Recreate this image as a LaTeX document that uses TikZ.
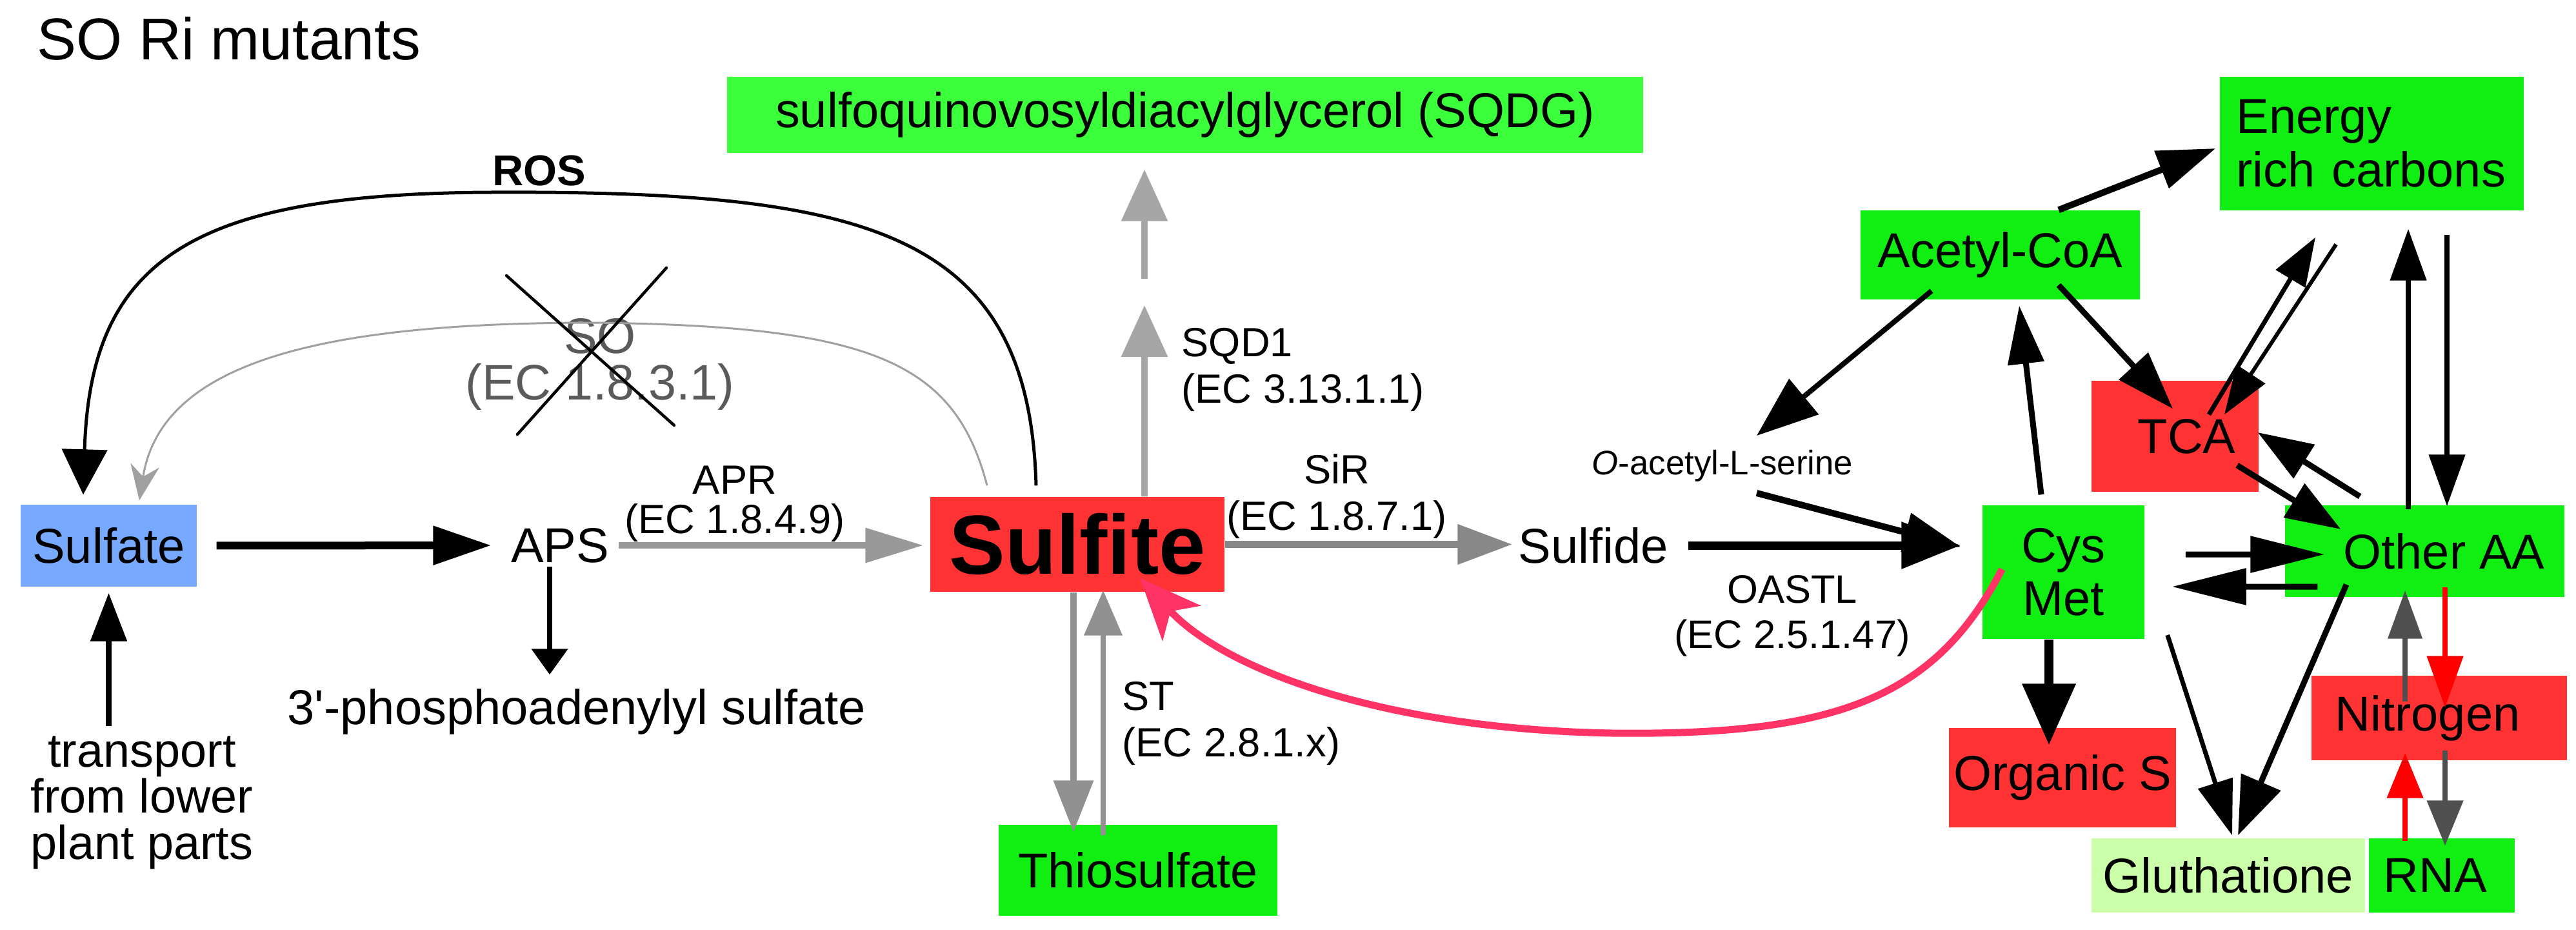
\documentclass[tikz,border=0pt]{standalone}
\usepackage{fontspec}
\setmainfont{Liberation Sans}
\usetikzlibrary{arrows.meta}
\definecolor{poolgreen}{HTML}{11EE11}
\definecolor{sqdggreen}{HTML}{3AFF3A}
\definecolor{poolred}{HTML}{FF3333}
\definecolor{sulfblue}{HTML}{77AAFF}
\definecolor{glutgreen}{HTML}{CCFFAA}
\definecolor{feedpink}{HTML}{FF3366}
\definecolor{aprgray}{HTML}{999999}
\definecolor{sirgray}{HTML}{888888}
\definecolor{sqdgray}{HTML}{A6A6A6}
\definecolor{stgray}{HTML}{919191}
\definecolor{sotext}{HTML}{5A5A5A}
\definecolor{socurve}{HTML}{A0A0A0}
\definecolor{nitgray}{HTML}{505050}
\newcommand{\tightlines}{\lineskiplimit=-20pt\relax}
\newcommand{\poolfont}{\fontsize{21.6}{23.5}\selectfont\tightlines}
\newcommand{\enzfont}{\fontsize{18}{20.5}\selectfont\tightlines}
\tikzset{
  pool/.style={inner sep=0pt,font=\poolfont,fill=poolgreen},
  redpool/.style={pool,fill=poolred},
  plain/.style={inner sep=0pt,font=\poolfont},
  enzyme/.style={inner sep=0pt,font=\enzfont,align=center},
  flow/.style={line width=0.9mm,-{Triangle[length=8.5mm,width=6mm]}},
  fatflow/.style={line width=1.3mm,-{Triangle[length=9.5mm,width=7.5mm]}},
  slimflow/.style={line width=0.7mm,-{Triangle[length=7.5mm,width=5.2mm]}}
}

\begin{document}
\begin{tikzpicture}[
  crossline/.style={line width=0.45mm,line cap=round},
  feedback/.style={line width=1.1mm,draw=feedpink,
    -{Stealth[length=9.5mm,width=8mm,inset=2.5mm]}}
]
  \useasboundingbox (0,0) rectangle (39.93,-14.40);
  \node[anchor=base west,inner sep=0pt,font=\fontsize{26}{30}\selectfont]
    (title) at (0.57,-0.92) {SO Ri mutants};

  % sulfur branch
  \node[pool,fill=sulfblue,minimum width=2.73cm,minimum height=1.27cm]
    (sulfate) at (1.685,-8.455) {Sulfate};
  \node[plain] (aps) at (8.68,-8.45) {APS};
  \node[plain,anchor=base] (paps) at (8.94,-11.22)
    {3\textquotesingle-phosphoadenylyl sulfate};
  \node[plain,align=center,anchor=north,
    font=\fontsize{21}{20.3}\selectfont\tightlines]
    (transport) at (2.20,-11.40) {transport\\from lower\\plant parts};
  \node[redpool,font=\fontsize{37}{40}\selectfont\bfseries,
    minimum width=4.56cm,minimum height=1.47cm] (sulfite) at (16.70,-8.435) {Sulfite};
  \node[pool,fill=sqdggreen,minimum width=14.20cm,minimum height=1.18cm]
    (sqdg) at (18.37,-1.78) {sulfoquinovosyldiacylglycerol (SQDG)};
  \node[pool,minimum width=4.32cm,minimum height=1.41cm]
    (thio) at (17.64,-13.485) {Thiosulfate};
  \node[plain] (sulfide) at (24.70,-8.45) {Sulfide};
  \node[plain,anchor=base,font=\fontsize{15}{17}\selectfont]
    (oas) at (26.70,-7.35) {\textit{O}-acetyl-L-serine};

  % carbon and nitrogen pools
  \node[pool,minimum width=4.33cm,minimum height=1.38cm]
    (acoa) at (31.005,-3.95) {Acetyl-CoA};
  \node[pool,align=left,text width=4.2cm,inner xsep=0.255cm,minimum height=2.07cm]
    (energy) at (36.765,-2.225) {Energy\\rich carbons};
  \node[redpool,minimum width=2.59cm,minimum height=1.72cm]
    (tca) at (33.715,-6.76) {\hspace*{0.36cm}TCA};
  \node[pool,align=center,minimum width=2.51cm,minimum height=2.07cm]
    (cysmet) at (31.985,-8.865) {Cys\\Met};
  \node[pool,minimum width=4.33cm,minimum height=1.42cm]
    (otheraa) at (37.585,-8.54) {\hspace*{0.6cm}Other AA};
  \node[redpool,minimum width=3.96cm,minimum height=1.31cm]
    (nitrogen) at (37.81,-11.125) {Nitrogen\hspace*{0.36cm}};
  \node[redpool,minimum width=3.52cm,minimum height=1.54cm]
    (orgs) at (31.97,-12.05) {Organic S};
  \node[pool,fill=glutgreen,minimum width=4.24cm,minimum height=1.15cm]
    (glut) at (34.54,-13.565) {Gluthatione};
  \node[pool,minimum width=2.26cm,minimum height=1.15cm]
    (rna) at (37.85,-13.565) {RNA\hspace*{0.2cm}};

  % enzyme labels
  \node[enzyme,anchor=north,font=\fontsize{18}{17.5}\selectfont\tightlines]
    (aprlbl) at (11.39,-7.21) {APR\\(EC 1.8.4.9)};
  \node[enzyme,anchor=north west,align=left] (sqdlbl) at (18.31,-5.08)
    {SQD1\\(EC 3.13.1.1)};
  \node[enzyme,anchor=north] (sirlbl) at (20.72,-7.03) {SiR\\(EC 1.8.7.1)};
  \node[enzyme,anchor=north west,align=left] (stlbl) at (17.39,-10.56)
    {ST\\(EC 2.8.1.x)};
  \node[enzyme,anchor=north,font=\fontsize{17.5}{20}\selectfont\tightlines]
    (oastllbl) at (27.78,-8.91) {OASTL\\(EC 2.5.1.47)};
  \node[enzyme,anchor=north,text=sotext,
    font=\fontsize{22}{20.5}\selectfont\tightlines]
    (solbl) at (9.30,-4.93) {SO\\(EC 1.8.3.1)};
  \node[anchor=base,inner sep=0pt,font=\fontsize{19}{21}\selectfont\bfseries]
    (roslbl) at (8.36,-2.87) {ROS};

  % sulfate uptake and reduction
  \draw[flow,line width=1.2mm,-{Triangle[length=9mm,width=5.8mm]},
    shorten <=3mm,shorten >=3mm] (sulfate.east) -- (aps.west);
  \draw[flow,-{Triangle[length=7.5mm,width=5.5mm]},shorten <=1.5mm,shorten >=0.9mm]
    (sulfate.south |- transport.north) -- (sulfate.south);
  \draw[flow,line width=0.8mm,-{Triangle[length=4mm,width=5.5mm]},
    shorten <=0.5mm,shorten >=2.1mm]
    ([xshift=-1.6mm]aps.south) -- ([xshift=-1.6mm]aps.south |- paps.north);
  \draw[flow,draw=aprgray,line width=1mm,-{Triangle[length=9mm,width=5.2mm]},
    shorten <=1.4mm,shorten >=1mm] (aps.east) -- (aps.east -| sulfite.west);
  \draw[line width=0.5mm,-{Triangle[length=7mm,width=7mm]}]
    ([xshift=-6.4mm,yshift=1.7mm]sulfite.north)
    .. controls (15.95,-3.6) and (13.5,-2.95) .. (7.6,-2.98)
    .. controls (3.0,-3.0) and (1.4,-4.0) .. ([xshift=-3.95mm,yshift=1.5mm]sulfate.north);
  \draw[line width=0.3mm,draw=socurve,-{Stealth[length=5.5mm,width=4.5mm]}]
    ([xshift=-14mm,yshift=1.7mm]sulfite.north)
    .. controls (14.8,-5.6) and (13.5,-5.05) .. (9.2,-5.0)
    .. controls (5.0,-5.0) and (2.5,-5.6) .. ([xshift=4.75mm,yshift=0.6mm]sulfate.north);
  \draw[crossline] (7.85,-4.27) -- (10.45,-6.59);
  \draw[crossline] (10.33,-4.15) -- (8.02,-6.73);

  % sulfite branches
  \coordinate (sqdmid) at (17.74,-4.52);
  \draw[flow,draw=sqdgray,line width=1mm,-{Triangle[length=8mm,width=7mm]},
    shorten >=2.1mm] ([xshift=10.4mm]sulfite.north) -- (sqdmid);
  \draw[flow,draw=sqdgray,line width=1mm,-{Triangle[length=8mm,width=7mm]},
    shorten <=2mm,shorten >=2.5mm] (sqdmid) -- (sqdmid |- sqdg.south);
  \draw[flow,draw=sirgray,line width=1.1mm,shorten >=0.9mm]
    (sulfite.east) -- (sulfite.east -| sulfide.west);
  \draw[flow,draw=stgray,line width=1mm,-{Triangle[length=8mm,width=6mm]},
    shorten >=-1.2mm]
    ([xshift=-0.6mm]sulfite.south) -- ([xshift=-0.6mm]sulfite.south |- thio.north);
  \draw[flow,draw=stgray,line width=0.8mm,-{Triangle[length=7mm,width=5.8mm]},
    shorten <=-1.7mm,shorten >=-0.3mm]
    ([xshift=4mm]sulfite.south |- thio.north) -- ([xshift=4mm]sulfite.south);

  % cysteine synthesis
  \draw[fatflow,-{Triangle[length=9.2mm,width=7mm]},shorten <=3mm,shorten >=3.3mm]
    (sulfide.east) -- (sulfide.east -| cysmet.west);
  \draw[flow,line width=1mm,-{Triangle[length=8.8mm,width=6mm]}]
    ([xshift=5.3mm,yshift=-2.9mm]oas.base) -- ([xshift=-3.3mm,yshift=3.9mm]cysmet.west);
  \draw[flow,line width=0.8mm,-{Triangle[length=9.5mm,width=7mm]}]
    ([xshift=-10.65mm,yshift=1.4mm]acoa.south) -- ([xshift=5.3mm,yshift=6mm]oas.base);
  \draw[feedback] ([xshift=3.1mm,yshift=0.45mm]cysmet.west)
    .. controls (30.0,-10.8) and (28.5,-11.4) .. (25.0,-11.36)
    .. controls (21.5,-11.3) and (19.0,-10.4) .. ([xshift=9.7mm,yshift=2.2mm]sulfite.south);

  % carbon network
  \draw[flow,line width=1mm,-{Triangle[length=9mm,width=6mm]}]
    ([xshift=9.05mm]acoa.north) -- ([xshift=-0.6mm,yshift=-0.75mm]energy.west);
  \draw[flow,-{Triangle[length=9mm,width=6mm]}]
    ([xshift=9.05mm,yshift=2.3mm]acoa.south) -- ([xshift=-0.35mm,yshift=-4.4mm]tca.north);
  \draw[flow,-{Triangle[length=9mm,width=5.5mm]}]
    ([xshift=-3.45mm,yshift=1.6mm]cysmet.north) -- ([xshift=2.95mm,yshift=-0.9mm]acoa.south);
  \draw[slimflow]
    ([xshift=5.25mm,yshift=-5.3mm]tca.north) -- ([xshift=-8.75mm,yshift=-4.1mm]energy.south);
  \draw[slimflow,line width=0.6mm]
    ([xshift=-5.55mm,yshift=-5.2mm]energy.south) -- ([xshift=7.65mm,yshift=-5.3mm]tca.north);
  \draw[flow,line width=0.8mm,-{Triangle[length=8mm,width=5.5mm]},
    shorten <=-0.7mm,shorten >=2.8mm]
    ([xshift=-2.55mm]otheraa.north) -- ([xshift=-2.55mm]otheraa.north |- energy.south);
  \draw[flow,line width=0.8mm,-{Triangle[length=8mm,width=5.5mm]},
    shorten <=3.7mm,shorten >=-0.2mm]
    ([xshift=3.45mm]otheraa.north |- energy.south) -- ([xshift=3.45mm]otheraa.north);
  \draw[flow] ([xshift=-3.4mm,yshift=-4.5mm]tca.east)
    -- ([xshift=8.7mm,yshift=3.4mm]otheraa.west);
  \draw[flow] ([xshift=-10.05mm,yshift=1.3mm]otheraa.north)
    -- ([xshift=-0.2mm,yshift=0.6mm]tca.east);
  \draw[flow,-{Triangle[length=11.5mm,width=5.5mm]}]
    ([xshift=6.3mm,yshift=2.75mm]cysmet.east) -- ([xshift=6.2mm,yshift=-0.5mm]otheraa.west);
  \draw[flow,-{Triangle[length=11.5mm,width=5.5mm]}]
    ([xshift=5.1mm,yshift=-5.5mm]otheraa.west) -- ([xshift=4.2mm,yshift=-2.25mm]cysmet.east);
  \draw[fatflow,line width=1.4mm,-{Triangle[length=9.5mm,width=8mm]},shorten >=-2.7mm]
    ([xshift=-2.25mm]cysmet.south) -- ([xshift=-2.25mm]cysmet.south |- orgs.north);
  \draw[slimflow,-{Triangle[length=8.5mm,width=5.5mm]}]
    ([xshift=3.5mm,yshift=-9.75mm]cysmet.east) -- ([xshift=0.6mm,yshift=0.4mm]glut.north);
  \draw[flow,-{Triangle[length=9mm,width=6.5mm]}]
    ([xshift=-12.15mm,yshift=2mm]otheraa.south) -- ([xshift=1.5mm,yshift=0.4mm]glut.north);

  % nitrogen exchange
  \draw[slimflow,draw=nitgray,line width=0.8mm,shorten >=-1.1mm]
    ([xshift=-5.3mm,yshift=-4.1mm]nitrogen.north) -- ([xshift=-5.3mm]nitrogen.north |- otheraa.south);
  \draw[slimflow,draw=red,line width=0.8mm,-{Triangle[length=8mm,width=5.5mm]},
    shorten <=-1.6mm]
    ([xshift=0.9mm]nitrogen.north |- otheraa.south) -- ([xshift=0.9mm,yshift=-5mm]nitrogen.north);
  \draw[slimflow,draw=red,line width=0.8mm,-{Triangle[length=7mm,width=5.5mm]},
    shorten <=-0.5mm,shorten >=-1.2mm]
    ([xshift=-5.3mm]nitrogen.south |- rna.north) -- ([xshift=-5.3mm]nitrogen.south);
  \draw[slimflow,draw=nitgray,line width=0.8mm,-{Triangle[length=7mm,width=5.5mm]},
    shorten >=-1.2mm]
    ([xshift=0.9mm,yshift=1.6mm]nitrogen.south) -- ([xshift=0.9mm]nitrogen.south |- rna.north);
\end{tikzpicture}
\end{document}
